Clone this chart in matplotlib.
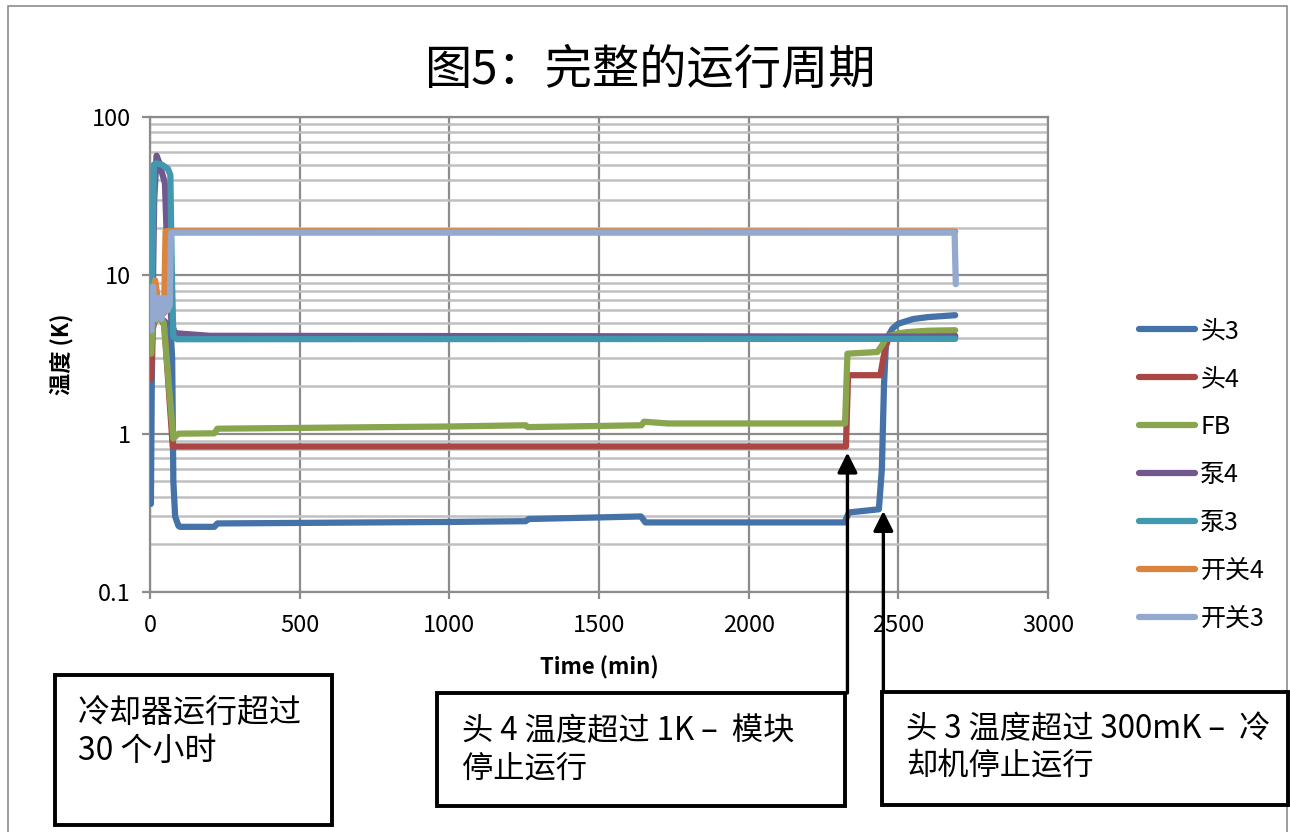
import matplotlib
matplotlib.use('Agg')
import matplotlib.pyplot as plt
from matplotlib.patches import Rectangle, FancyArrowPatch, ArrowStyle
from matplotlib.transforms import blended_transform_factory
from matplotlib.ticker import FixedLocator, FixedFormatter, LogLocator, NullFormatter

plt.rcParams['font.family'] = ['Noto Sans CJK SC', 'DejaVu Sans']

# ---- temperature logs (time in minutes, temperature in K) ----
t_head3 = [3, 6, 9, 20, 40, 55, 68, 74, 78, 84, 95, 100, 215, 225, 1000, 1255, 1265,
           1640, 1655, 2320, 2335, 2435, 2445, 2452, 2458, 2465, 2480, 2500, 2550, 2600, 2690]
v_head3 = [0.36, 2.2, 5.0, 5.5, 5.3, 5.0, 4.8, 3.0, 0.5, 0.30, 0.262, 0.258, 0.258, 0.271, 0.277, 0.280, 0.289,
           0.300, 0.275, 0.275, 0.318, 0.333, 0.6, 2.0, 3.5, 4.1, 4.6, 4.95, 5.3, 5.45, 5.6]

t_head4 = [4, 8, 20, 40, 48, 76, 100, 2325, 2332, 2440, 2450, 2458, 2467, 2500, 2690]
v_head4 = [2.2, 4.5, 5.5, 5.2, 4.8, 0.83, 0.83, 0.83, 2.34, 2.34, 3.0, 3.6, 3.95, 4.1, 4.15]

t_fb = [4, 8, 20, 40, 46, 78, 85, 95, 215, 225, 1000, 1255, 1262, 1642, 1650, 1730,
        2322, 2330, 2430, 2445, 2462, 2500, 2530, 2600, 2690]
v_fb = [3.2, 4.8, 5.4, 5.2, 5.0, 0.93, 0.96, 1.0, 1.005, 1.075, 1.11, 1.13, 1.10, 1.13, 1.19, 1.16,
        1.16, 3.2, 3.28, 3.6, 4.1, 4.3, 4.38, 4.47, 4.5]

t_pump4 = [8, 14, 22, 30, 50, 60, 72, 83, 90, 200, 2690]
v_pump4 = [5, 30, 57, 52, 38, 10, 5, 4.3, 4.3, 4.15, 4.1]

t_pump3 = [5, 10, 13, 20, 40, 60, 68, 73, 78, 90, 2690]
v_pump3 = [6, 20, 50, 51, 50, 47, 43, 10, 4.1, 3.95, 3.97]

t_sw4 = [5, 12, 17, 35, 47, 52, 60, 2690]
v_sw4 = [6, 8.5, 9.3, 5.5, 5.8, 19.0, 19.0, 18.9]

t_sw3 = [5, 10, 18, 28, 38, 48, 58, 66, 70, 2688, 2692]
v_sw3 = [4.5, 8.5, 5.3, 7.2, 5.3, 7.2, 6.0, 6.5, 18.6, 18.6, 8.8]

series_names = ['头3', '头4', 'FB', '泵4', '泵3', '开关4', '开关3']
series_colors = ['#4572A7', '#AA4643', '#89A54E', '#71588F', '#4198AF', '#DB843D', '#93A9CF']

x_ticks = [0, 500, 1000, 1500, 2000, 2500, 3000]
y_ticks = [0.1, 1, 10, 100]
y_tick_labels = ['0.1', '1', '10', '100']

title_text = '图5：完整的运行周期'
x_label = 'Time (min)'
y_label = '温度 (K)'
note_run = '冷却器运行超过\n30 个小时'
note_head4 = '头 4 温度超过 1K –  模块\n停止运行'
note_head3 = '头 3 温度超过 300mK –  冷\n却机停止运行'

# ---- figure ----
W, H = 1290, 832
fig = plt.figure(figsize=(W / 100, H / 100), dpi=100)


def fx(px):
    return px / W


def fy(py):
    return 1 - py / H


ax = fig.add_axes([fx(150), fy(592), fx(1048) - fx(150), fy(117) - fy(592)])

series = [(t_head3, v_head3), (t_head4, v_head4), (t_fb, v_fb), (t_pump4, v_pump4),
          (t_pump3, v_pump3), (t_sw4, v_sw4), (t_sw3, v_sw3)]
for (t, v), name, col in zip(series, series_names, series_colors):
    ax.plot(t, v, color=col, lw=4.5, label=name, solid_capstyle='round',
            solid_joinstyle='round', zorder=3)

ax.set_yscale('log')
ax.set_xlim(0, 3000)
ax.set_ylim(0.1, 100)
ax.xaxis.set_major_locator(FixedLocator(x_ticks))
ax.yaxis.set_major_locator(FixedLocator(y_ticks))
ax.yaxis.set_major_formatter(FixedFormatter(y_tick_labels))
ax.yaxis.set_minor_locator(LogLocator(base=10, subs=[2, 3, 4, 5, 6, 7, 8, 9]))
ax.yaxis.set_minor_formatter(NullFormatter())

ax.grid(axis='y', which='major', color='#8c8c8c', lw=1.6, zorder=0)
ax.grid(axis='y', which='minor', color='#c0c0c0', lw=1.8, zorder=0)
ax.grid(axis='x', which='major', color='#8c8c8c', lw=1.6, zorder=0)
ax.set_axisbelow(True)

for side in ['left', 'bottom', 'top', 'right']:
    ax.spines[side].set_color('#8c8c8c')
    ax.spines[side].set_linewidth(1.6)

ax.tick_params(axis='y', which='major', length=6, width=1.6, color='#8c8c8c',
               labelsize=17, pad=8)
ax.tick_params(axis='y', which='minor', length=0)
ax.tick_params(axis='x', which='major', length=5, width=1.6, color='#8c8c8c',
               labelsize=17, pad=11)

ax.set_xlabel(x_label, fontsize=16, fontweight='bold')
ax.set_ylabel(y_label, fontsize=16, fontweight='bold')
ax.xaxis.set_label_coords(0.5, -0.135)
ax.yaxis.set_label_coords(-0.085, 0.5)

fig.text(fx(650), fy(70), title_text, fontsize=34, ha='center', va='center')

ax.legend(loc='upper left', bbox_to_anchor=(fx(1139), fy(318)), bbox_transform=fig.transFigure,
          frameon=False, fontsize=18, handlelength=2.25, handletextpad=0.2,
          labelspacing=0.88, borderpad=0, borderaxespad=0)

# outer chart border
fig.add_artist(Rectangle((fx(8), fy(845)), fx(1287) - fx(8), fy(6) - fy(845),
                         transform=fig.transFigure, fill=False, ec='#8c8c8c', lw=1.2))

# note boxes
boxes = [
    ((55, 675, 332, 825), note_run, (78, 732), 23),
    ((437, 693, 845, 806), note_head4, (462, 750), 22.5),
    ((882, 692, 1288, 805), note_head3, (906, 748), 22.5),
]
for (x0, y0, x1, y1), txt, (tx, ty), fs in boxes:
    fig.add_artist(Rectangle((fx(x0), fy(y1)), fx(x1) - fx(x0), fy(y0) - fy(y1),
                             transform=fig.transFigure, fc='white', ec='black', lw=2.8, zorder=5))
    fig.text(fx(tx), fy(ty), txt, fontsize=fs, ha='left', va='center', linespacing=1.22,
             zorder=6, transform=fig.transFigure)

# arrows from the note boxes to the events
trans = blended_transform_factory(ax.transData, fig.transFigure)
for xt, yt, ybase in [(2330, 0.76, 693), (2450, 0.325, 692)]:
    arr = FancyArrowPatch(posA=(0, 0), posB=(1, 1), transform=None,
                          arrowstyle=ArrowStyle('-|>', head_length=1.2, head_width=0.6),
                          mutation_scale=10, color='black', lw=2.4,
                          shrinkA=0, shrinkB=0, zorder=7)
    arr.set_positions(trans.transform((xt, fy(ybase))), ax.transData.transform((xt, yt)))
    fig.add_artist(arr)

fig.savefig('out.png', dpi=100)
